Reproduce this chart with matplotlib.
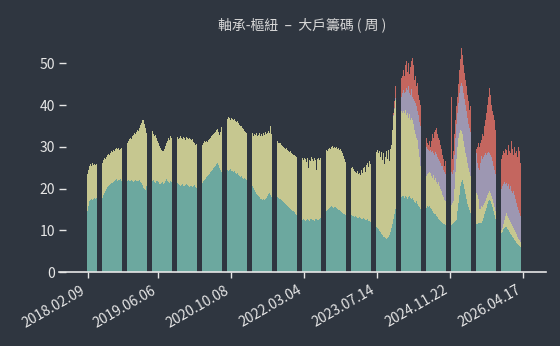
import numpy as np
import matplotlib
matplotlib.use('Agg')
import matplotlib.pyplot as plt

plt.rcParams['font.family'] = ['Noto Sans CJK TC', 'DejaVu Sans']

# weekly big-holder chip distribution, stacked (bottom -> top)
title = '軸承-樞紐  –  大戶籌碼 ( 周 )'
tick_labels = ['2018.02.09', '2019.06.06', '2020.10.08', '2022.03.04',
               '2023.07.14', '2024.11.22', '2026.04.17']

teal = [
    14.5, 15.8, 16.9, 17.2, 17.5, 17.3, 17.6, 17.8, 17.5, 17.7,
    17.6, 17.4, 17.0, 17.2, 17.8, 18.4, 18.9, 19.5, 19.8, 20.3,
    20.6, 20.9, 21.0, 21.4, 21.3, 21.6, 21.9, 22.0, 22.2, 21.9,
    22.1, 22.0, 22.2, 21.8, 22.0, 21.7, 21.9, 21.6, 21.8, 22.0,
    21.7, 21.9, 22.1, 21.8, 21.6, 21.9, 22.0, 21.8, 21.7, 21.9,
    22.0, 21.6, 21.4, 20.9, 20.2, 19.8, 19.7, 20.5, 21.2, 21.6,
    21.7, 21.5, 21.8, 22.0, 21.6, 21.4, 21.7, 21.9, 21.5, 21.2,
    21.0, 21.3, 21.5, 21.1, 21.4, 21.8, 22.3, 21.9, 21.6, 21.4,
    21.7, 21.5, 21.2, 21.0, 20.8, 21.0, 21.3, 21.1, 20.8, 20.6,
    20.9, 21.0, 20.7, 20.5, 20.8, 21.1, 20.9, 20.6, 20.4, 20.7,
    20.5, 20.3, 20.6, 20.8, 20.4, 20.2, 20.5, 20.7, 20.9,
    21.0, 21.3, 21.8, 22.1, 22.4, 22.8, 23.0, 23.3, 23.5, 23.9,
    24.2, 24.5, 24.8, 25.2, 25.5, 25.9, 26.2, 25.6, 25.0, 24.5,
    24.0, 23.8, 24.1, 23.9, 24.3, 24.5, 24.2, 24.4, 24.6, 24.3,
    24.1, 23.9, 24.2, 23.8, 23.5, 23.6, 23.2, 23.0, 22.8, 22.9,
    22.6, 22.4, 22.5, 22.2, 22.0, 21.8, 21.6, 21.3, 21.0, 20.6,
    20.1, 19.7, 19.2, 18.8, 18.5, 18.1, 17.9, 17.6, 17.5, 17.3,
    17.4, 17.3, 17.6, 17.8, 18.2, 18.6, 19.0, 18.4, 18.0, 18.2,
    18.1, 18.0, 18.1, 17.9, 17.8, 17.6, 17.4, 17.2, 17.0, 16.8,
    16.5, 16.3, 16.0, 15.8, 15.6, 15.3, 15.1, 14.9, 14.7, 14.5,
    14.3, 14.0, 13.6, 13.2, 12.9, 12.6, 12.5, 12.4, 12.6, 12.5,
    12.3, 12.5, 12.6, 12.4, 12.3, 12.7, 12.6, 12.4, 12.5,
    12.3, 12.6, 12.8, 12.5, 12.4, 12.6, 12.9, 13.2, 13.6, 14.0,
    14.4, 14.7, 14.9, 15.1, 15.3, 15.5, 15.7, 15.6, 15.4, 15.6,
    15.5, 15.3, 15.1, 14.9, 14.8, 14.6, 14.4, 14.2, 14.0, 13.9,
    13.7, 13.6, 13.8, 13.5, 13.4, 13.6, 13.5, 13.3, 13.2, 13.4,
    13.1, 13.0, 12.9, 13.2, 13.0, 12.8, 12.7, 12.9, 12.6, 12.5,
    12.4, 12.6, 12.3, 12.1, 11.9, 11.6, 11.4, 11.1, 10.9, 10.7,
    10.5, 10.2, 9.8, 9.5, 9.1, 8.8, 8.5, 8.3, 8.1, 8.0,
    8.1, 8.4, 8.9, 9.6, 10.5, 11.6, 12.8, 14.0, 15.0, 15.7,
    16.3, 17.0, 17.6, 18.0, 18.1, 18.3, 17.8, 18.2, 18.0, 17.6,
    17.9, 18.2, 17.7, 17.4, 17.8, 17.2, 16.8, 16.5, 16.9, 16.2,
    15.8, 15.6, 15.2, 15.4, 14.9, 15.2, 15.6, 15.3, 15.7, 15.5,
    15.7, 15.3, 15.0, 14.6, 14.2, 14.0, 13.8, 13.5, 13.1, 12.8,
    12.5, 12.3, 12.0, 11.8, 11.6, 11.4, 11.2, 11.1, 10.9, 10.8,
    11.0, 11.2, 11.5, 11.8, 12.0, 12.3, 12.5, 14.5, 16.5, 18.5,
    20.5, 21.5, 22.0, 21.0, 19.8, 18.6, 17.4, 16.4, 15.5, 14.8,
    14.2, 13.6, 13.0, 12.4, 11.7, 11.5, 11.6, 11.7, 11.8, 11.7,
    11.7, 12.2, 13.0, 13.8, 14.6, 15.4, 16.2, 16.9, 17.3, 17.0,
    16.4, 15.6, 14.6, 13.6, 12.6, 11.6, 10.8, 10.1, 9.6, 9.3,
    9.6, 10.2, 10.6, 10.9, 10.7, 10.4, 10.0, 9.6, 9.2, 8.8,
    8.5, 8.1, 7.7, 7.4, 7.0, 6.7, 6.5, 6.3, 6.1, 5.5,
    3.7,
]

khaki = [
    9.0, 8.7, 8.4, 8.6, 8.0, 8.7, 8.1, 8.1, 8.1, 8.1,
    8.1, 8.1, 8.6, 8.6, 8.4, 8.4, 8.4, 7.5, 7.8, 7.7,
    7.7, 7.2, 7.6, 7.5, 7.4, 7.6, 7.1, 7.5, 7.6, 7.5,
    7.6, 7.3, 7.3, 8.0, 8.0, 8.8, 8.9, 9.6, 9.2, 9.5,
    10.1, 10.3, 9.8, 10.7, 11.2, 11.4, 11.0, 11.8, 12.3, 11.9,
    12.5, 13.6, 14.4, 15.4, 16.3, 15.7, 14.9, 12.9, 12.6, 12.4,
    12.5, 12.1, 12.0, 11.1, 10.9, 11.4, 10.3, 9.5, 9.3, 9.0,
    8.8, 8.0, 7.5, 7.8, 8.1, 8.5, 8.7, 9.6, 10.4, 10.2,
    10.8, 10.5, 10.4, 10.9, 11.4, 11.0, 11.1, 10.7, 11.3, 11.9,
    11.3, 10.9, 11.6, 11.5, 10.9, 11.3, 11.2, 11.2, 11.8, 11.2,
    11.1, 11.5, 10.6, 10.0, 10.1, 10.4, 9.7, 9.3, 9.4,
    9.0, 9.2, 9.2, 9.2, 8.7, 8.7, 8.2, 8.3, 8.4, 8.3,
    8.3, 8.3, 8.2, 8.1, 8.1, 8.1, 8.1, 7.9, 7.8, 9.1,
    10.8, 12.1, 12.7, 13.4, 12.7, 12.1, 12.9, 12.4, 11.9, 12.6,
    12.5, 12.4, 12.5, 12.4, 12.4, 12.5, 12.4, 12.2, 12.1, 12.2,
    12.0, 11.8, 11.3, 11.3, 11.3, 11.2, 11.2, 11.9, 11.9, 12.7,
    12.5, 13.4, 13.6, 14.6, 14.0, 14.8, 15.3, 15.1, 15.5, 15.3,
    15.9, 15.6, 15.9, 15.2, 15.2, 15.2, 14.2, 16.6, 15.1, 14.6,
    14.3, 14.0, 13.5, 13.4, 13.2, 13.2, 13.5, 13.3, 13.2, 13.2,
    13.3, 13.2, 13.6, 13.4, 13.4, 13.4, 13.8, 13.6, 13.6, 13.6,
    13.7, 13.8, 13.9, 14.5, 14.4, 15.0, 14.0, 14.8, 14.2, 14.9,
    14.7, 13.9, 14.7, 12.4, 14.6, 13.9, 14.9, 14.6, 14.2,
    14.9, 14.2, 11.7, 14.5, 15.0, 14.3, 14.4, 14.6, 14.7, 14.8,
    14.7, 14.6, 14.1, 14.4, 14.4, 13.9, 14.2, 14.5, 14.4, 14.4,
    14.2, 14.6, 14.4, 14.7, 14.4, 14.8, 14.5, 14.3, 13.8, 13.1,
    12.7, 12.4, 11.8, 11.8, 11.6, 11.2, 11.6, 11.3, 11.0, 10.5,
    10.5, 11.1, 10.5, 10.6, 10.3, 11.7, 11.0, 11.9, 12.6, 11.5,
    13.2, 13.4, 12.9, 14.4, 13.9, 14.7, 16.6, 17.5, 18.1, 18.1,
    18.8, 18.3, 19.3, 18.1, 19.7, 18.0, 19.9, 17.5, 19.4, 21.0,
    18.9, 20.9, 17.6, 19.9, 20.0, 22.4, 24.5, 25.0, 26.3, 24.8,
    23.5, 23.2, 21.4, 20.5, 19.9, 20.2, 20.2, 20.7, 19.5, 20.6,
    19.1, 19.6, 18.8, 19.6, 18.7, 18.3, 17.2, 16.5, 15.1, 15.5,
    13.7, 11.9, 10.1, 8.6, 7.6, 6.8, 6.9, 7.7, 7.8, 8.2,
    8.3, 8.4, 8.0, 7.9, 9.0, 8.0, 8.7, 8.0, 7.9, 8.7,
    8.0, 7.7, 7.5, 6.7, 6.4, 5.9, 5.8, 5.4, 5.1, 4.9,
    4.5, 4.8, 5.0, 5.2, 8.0, 11.7, 14.5, 15.5, 15.5, 14.8,
    13.6, 12.3, 11.0, 10.5, 10.2, 9.9, 10.1, 9.6, 9.5, 9.2,
    8.8, 8.9, 9.0, 8.6, 8.0, 7.5, 6.9, 5.8, 3.2, 3.5,
    4.0, 3.3, 3.0, 2.7, 2.4, 2.4, 2.3, 2.1, 2.2, 2.0,
    1.8, 1.9, 1.9, 1.9, 1.9, 1.6, 1.2, 0.9, 0.5, 0.7,
    0.9, 1.3, 1.9, 2.6, 3.4, 3.1, 3.0, 2.9, 2.8, 2.7,
    2.5, 2.4, 2.3, 2.1, 2.0, 1.8, 1.5, 1.4, 1.1, 1.0,
    0.8,
]

# the two upper groups only show up from mid-2023 on
purple = [0.0] * 294 + [
    0.2, 0.4, 0.5, 1.0,
    1.4, 1.6, 2.5, 3.5, 5.0, 5.0, 4.8, 4.3, 6.5, 5.3,
    7.5, 5.2, 6.0, 6.8, 5.5, 6.0, 7.0, 7.5, 7.7, 6.8,
    8.0, 8.5, 9.6, 9.5, 10.0, 10.5, 8.5, 7.0, 6.0, 5.6,
    5.0, 5.6, 5.8, 6.5, 5.3, 6.0, 6.2, 6.8, 6.5, 5.5,
    6.0, 6.0, 6.0, 6.8, 6.5, 6.7, 6.5, 6.5, 6.5, 6.3,
    6.5, 8.0, 7.0, 7.5, 8.0, 8.0, 8.5, 8.0, 8.5, 9.7,
    10.4, 11.5, 11.5, 11.5, 11.5, 11.5, 11.0, 11.0, 10.5, 10.5,
    10.5, 10.5, 10.5, 10.5, 10.3, 9.5, 7.5, 7.5, 9.5, 10.8,
    12.0, 11.5, 11.5, 11.5, 11.5, 10.2, 10.0, 9.8, 9.0, 9.0,
    9.3, 9.0, 9.0, 9.0, 9.0, 9.3, 9.5, 10.0, 10.4, 10.0,
    10.0, 9.5, 9.0, 7.5, 7.2, 7.0, 8.0, 7.5, 8.5, 8.0,
    8.0, 9.0, 8.5, 8.0, 7.5, 7.0, 6.8, 6.4, 6.3, 6.0,
    4.0,
]

red = [0.0] * 294 + [
    0.5, 1.6, 2.7, 6.5,
    5.8, 3.7, 4.5, 4.5, 4.0, 5.0, 4.1, 6.3, 6.5, 4.5,
    5.5, 4.5, 6.5, 6.7, 9.3, 8.0, 5.0, 6.5, 4.8, 6.8,
    5.0, 5.3, 5.1, 4.5, 3.5, 3.2, 3.0, 2.0, 1.5, 1.2,
    2.5, 0.7, 2.7, 4.0, 3.5, 5.5, 5.3, 6.2, 5.5, 5.0,
    5.2, 4.5, 4.0, 2.7, 2.5, 1.3, 3.0, 4.0, 5.5, 5.7,
    4.0, 18.0, 3.5, 4.5, 5.0, 4.5, 4.2, 4.0, 4.5, 5.5,
    6.5, 8.4, 7.5, 6.5, 6.2, 6.0, 6.0, 5.5, 5.5, 4.4,
    6.2, 5.0, 4.8, 3.5, 2.0, 1.0, 4.0, 6.0, 5.5, 5.0,
    4.0, 6.0, 5.0, 7.0, 8.0, 10.0, 11.5, 13.2, 15.6, 14.5,
    12.5, 12.0, 12.0, 12.0, 10.5, 8.5, 7.0, 5.5, 4.8, 7.0,
    7.5, 8.0, 7.0, 8.5, 8.0, 7.5, 9.5, 9.0, 8.0, 11.8,
    10.5, 8.5, 11.5, 11.0, 12.5, 12.0, 15.2, 14.9, 12.5, 9.5,
    3.5,
]

bg = '#2f3640'
fg = '#e6e6e6'
colors = ['#6ca89f', '#c6c790', '#9d97b2', '#c4665f']

n = len(teal)
x = np.arange(n)

fig = plt.figure(figsize=(5.6, 3.46), dpi=100, facecolor=bg)
ax = fig.add_axes([59 / 560, 74 / 346, 487 / 560, 235.4 / 346])
ax.set_facecolor(bg)

bottom = np.zeros(n)
for vals, c in zip([teal, khaki, purple, red], colors):
    vals = np.array(vals)
    ax.bar(x, vals, width=0.8, bottom=bottom, color=c, linewidth=0)
    bottom = bottom + vals

# first week plus every 70th week counted back from the latest one
ticks = [0] + list(range(n - 1, 0, -70))[::-1]
ax.set_xticks(ticks)
ax.set_xticklabels(tick_labels, rotation=30, ha='right')
ax.set_yticks([0, 10, 20, 30, 40, 50])

p = 435.5 / (n - 1)
ax.set_xlim(-28.5 / p, (n - 1) + 23 / p)
ax.set_ylim(0, 56.4)

for s in ['top', 'right', 'left']:
    ax.spines[s].set_visible(False)
ax.spines['bottom'].set_color(fg)
ax.spines['bottom'].set_linewidth(1.2)

ax.tick_params(axis='x', colors=fg, labelsize=10, length=4, width=1, direction='out', pad=4)
ax.tick_params(axis='y', colors=fg, labelsize=10, length=5, width=1, direction='in', pad=3)

ax.set_title(title, color='#d8d8d8', fontsize=10, pad=5)

fig.savefig('out.png', dpi=100, facecolor=bg)
